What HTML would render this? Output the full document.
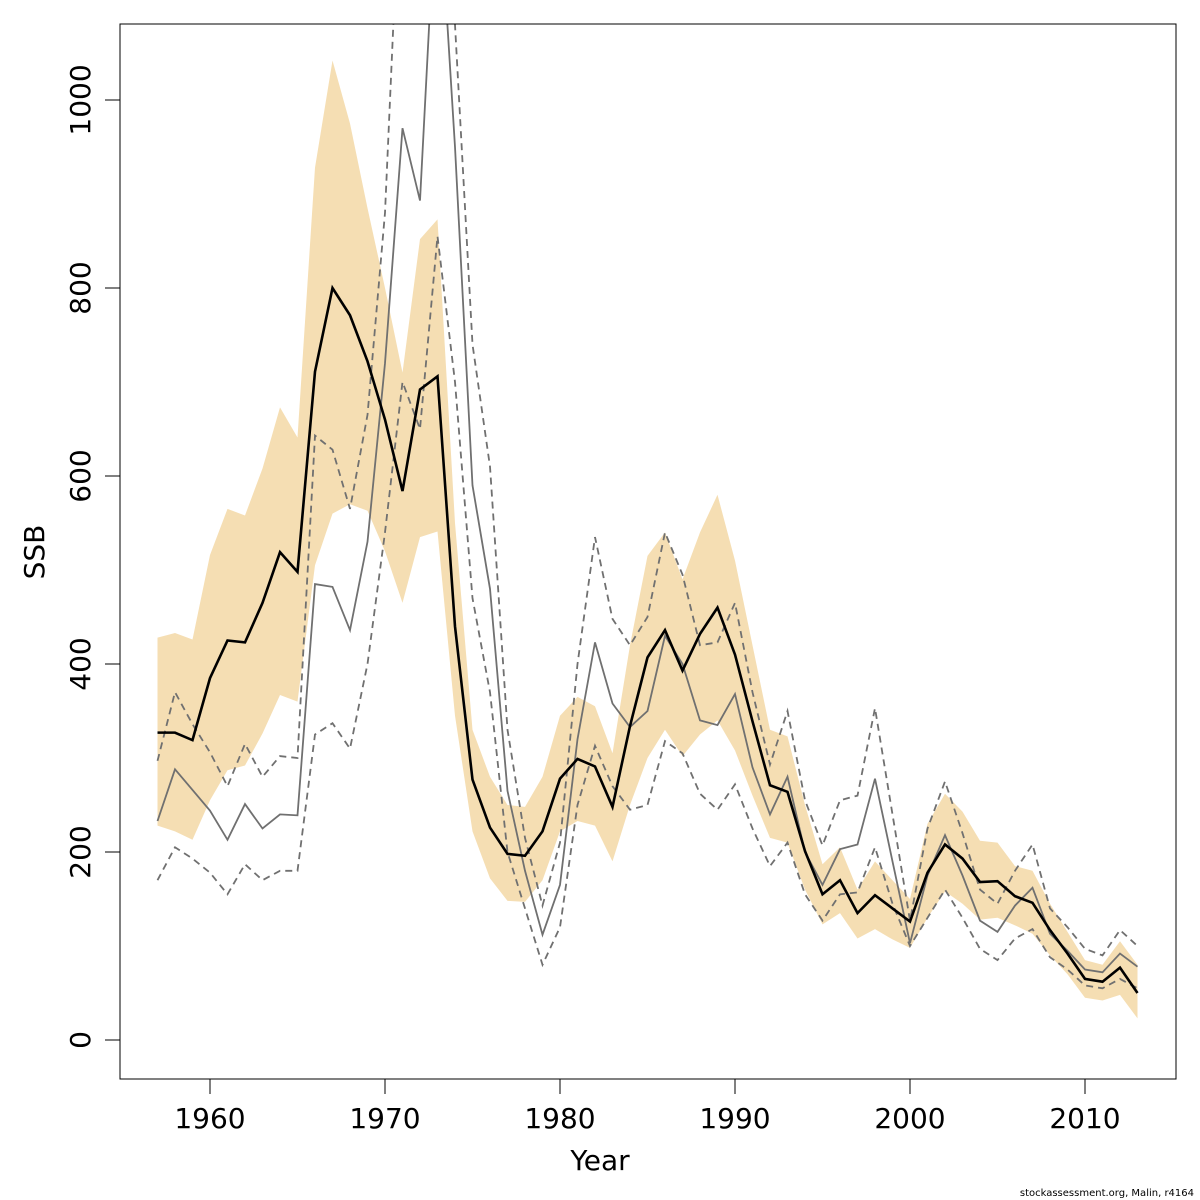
<!DOCTYPE html>
<html><head><meta charset="utf-8"><style>body{margin:0;background:#fff}svg{display:block;font-family:"DejaVu Sans","Liberation Sans",sans-serif}</style></head>
<body>
<svg id="chart" width="1200" height="1200" viewBox="0 0 1200 1200">
<defs><clipPath id="clip"><rect x="120" y="24" width="1056" height="1055"/></clipPath></defs>
<g id="band" clip-path="url(#clip)"></g>
<g id="lines" clip-path="url(#clip)"></g>
<rect x="120" y="24" width="1056" height="1055" fill="none" stroke="#000" stroke-width="1"/>
<g id="axes"></g>
<text x="600" y="1170" font-size="28" text-anchor="middle">Year</text>
<text transform="translate(44,552) rotate(-90)" font-size="28" text-anchor="middle">SSB</text>
<text x="1194" y="1196" font-size="10" text-anchor="end">stockassessment.org, Malin, r4164</text>
</svg>
<script>
const years = [];for(let y=1957;y<=2013;y++)years.push(y);
const ssb = [327,327,319,385,425,423,465,519,498,711,800,771,722,660,584,692,706,440,277,226,198,196,222,278,299,291,248,334,407,436,393,432,460,410,339,271,264,201,155,170,135,154,140,126,178,208,193,168,169,153,146,117,92,65,62,77,50];
const bandHigh = [428,433,426,516,565,558,608,673,641,928,1042,975,885,800,710,852,873,550,330,280,250,248,280,345,365,355,305,420,515,540,490,540,580,510,420,330,323,250,187,205,160,190,170,150,230,262,243,212,210,185,180,145,115,85,80,105,80];
const bandLow = [228,222,213,255,287,292,326,367,360,505,560,570,563,520,465,535,541,345,222,172,148,147,170,222,233,228,190,250,300,330,302,325,340,308,260,215,210,160,123,135,108,118,107,98,130,158,145,128,130,122,113,90,70,45,42,48,23];
const altSsb = [233,288,266,244,213,251,225,240,239,485,482,436,530,720,970,893,1250,950,590,480,265,180,112,165,320,423,358,333,350,430,400,340,335,368,290,240,280,200,165,203,208,278,190,103,175,218,175,127,115,143,162,113,95,75,72,92,78];
const altHigh = [297,370,336,306,270,315,280,302,300,643,628,565,665,880,1300,1400,1500,1080,740,610,330,215,143,210,400,535,448,420,450,540,495,420,423,465,370,293,350,255,207,255,260,353,240,127,225,275,220,160,145,180,208,140,120,97,90,117,100];
const altLow = [170,205,193,178,155,187,170,180,180,325,337,310,400,540,700,650,855,700,470,370,200,140,80,120,250,313,270,245,250,318,305,262,245,272,225,185,210,155,127,155,157,205,145,100,130,160,130,97,85,108,118,88,75,58,55,65,55];
const xTicks = [1960,1970,1980,1990,2000,2010];
const yTicks = [0,200,400,600,800,1000];
const X = y => 210 + (y-1960)*17.5;
const Y = v => 1040 - v*0.94;
const NS='http://www.w3.org/2000/svg';
function mk(tag,attrs,parent){const e=document.createElementNS(NS,tag);for(const k in attrs)e.setAttribute(k,attrs[k]);parent.appendChild(e);return e;}
const band=document.getElementById('band'),lines=document.getElementById('lines'),axes=document.getElementById('axes');
let d=years.map((y,i)=>(i?'L':'M')+X(y)+','+Y(bandHigh[i])).join('');
for(let i=years.length-1;i>=0;i--)d+='L'+X(years[i])+','+Y(bandLow[i]);
const bp=mk('path',{d:d+'Z',fill:'#f5deb3',stroke:'none'},band);


function line(arr,style,name){const p=mk('path',Object.assign({d:years.map((y,i)=>(i?'L':'M')+X(y)+','+Y(arr[i])).join(''),fill:'none'},style),lines);

}
line(altHigh,{stroke:'#707070','stroke-width':1.8,'stroke-dasharray':'7,5'},'alt-upper-dashed');
line(altLow,{stroke:'#707070','stroke-width':1.8,'stroke-dasharray':'7,5'},'alt-lower-dashed');
line(altSsb,{stroke:'#707070','stroke-width':1.8},'alt-ssb-line');
line(ssb,{stroke:'#000','stroke-width':2.6},'ssb-line');
xTicks.forEach(t=>{mk('line',{x1:X(t),x2:X(t),y1:1079,y2:1094,stroke:'#000'},axes);
const tx=mk('text',{x:X(t),y:1128,'font-size':28,'text-anchor':'middle'},axes);tx.textContent=t;

});
yTicks.forEach(t=>{mk('line',{x1:105,x2:120,y1:Y(t),y2:Y(t),stroke:'#000'},axes);
const tx=mk('text',{transform:`translate(90,${Y(t)}) rotate(-90)`,'font-size':28,'text-anchor':'middle'},axes);tx.textContent=t;

});
</script>
</body></html>
